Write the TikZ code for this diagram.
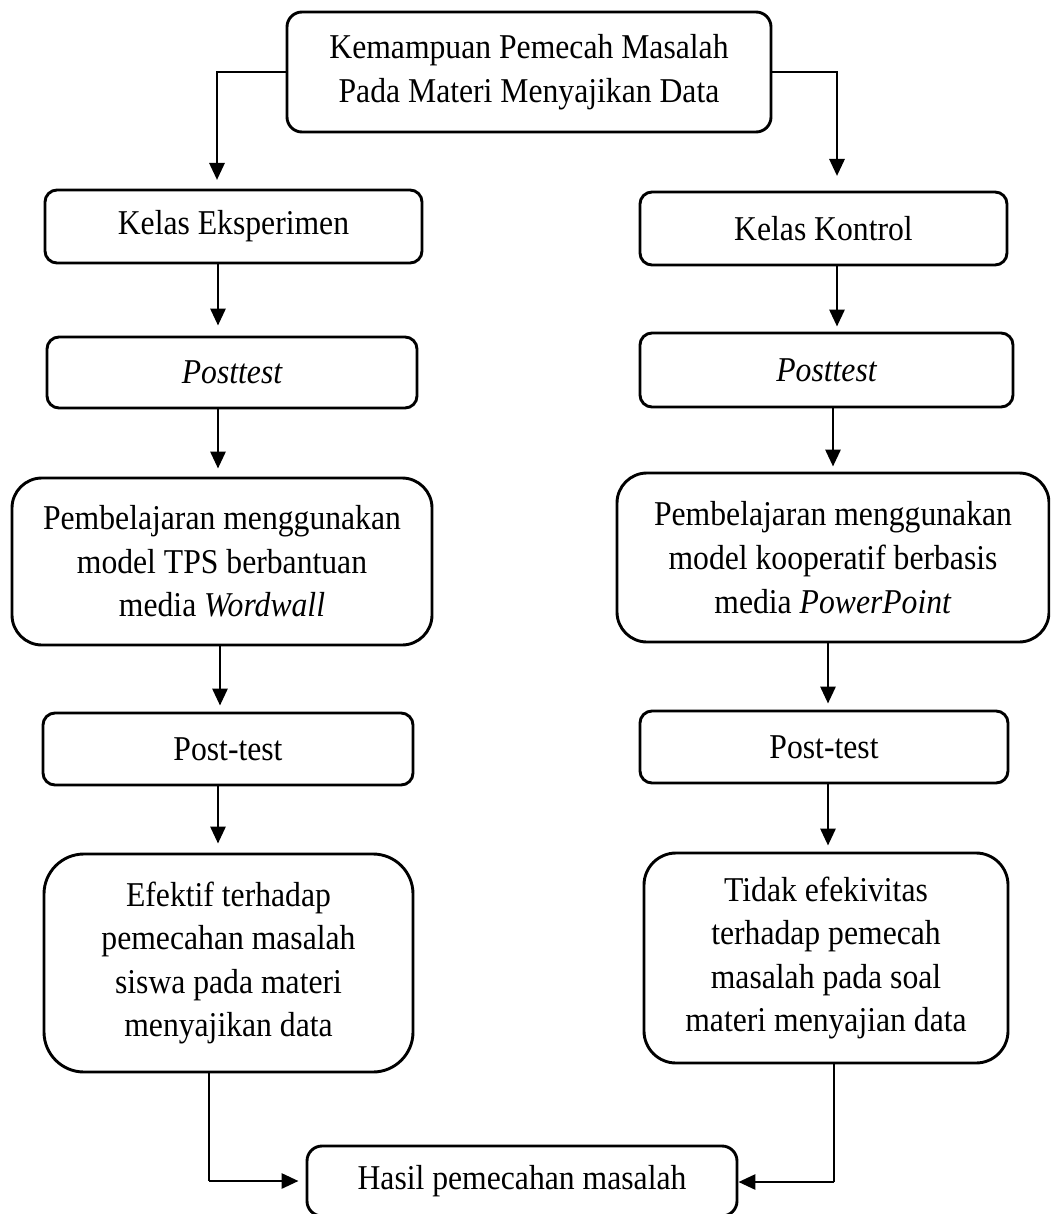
\documentclass[tikz,border=0pt]{standalone}
\usepackage{fontspec}
\setmainfont{Liberation Serif}[FakeStretch=0.91]
\usetikzlibrary{arrows.meta,calc}
\begin{document}
\begin{tikzpicture}[x=0.5pt,y=-0.5pt,
  box/.style={draw,line width=1.45pt,align=center,inner sep=0pt,
    font=\fontsize{17.4}{21.8}\selectfont},
  arr/.style={line width=1.45pt,-{Triangle[length=8.5pt,width=7.5pt]}},
  link/.style={line width=1.45pt}]
\useasboundingbox (0,0) rectangle (1050,1214);
\clip (0,0) rectangle (1050,1214);

% nodes
\node[box,rounded corners=7.5pt,minimum width=242pt,minimum height=60pt] (top) at (529,72)
  {Kemampuan Pemecah Masalah\\Pada Materi Menyajikan Data};
\node[box,rounded corners=6pt,minimum width=188.5pt,minimum height=36.5pt] (kE) at (233.5,226.5) {Kelas Eksperimen};
\node[box,rounded corners=6pt,minimum width=183.5pt,minimum height=36.5pt] (kK) at (823.5,228.5) {Kelas Kontrol};
\node[box,rounded corners=6pt,minimum width=185pt,minimum height=35.5pt] (ptL) at (232,372.5) {\itshape Posttest};
\node[box,rounded corners=6pt,minimum width=186.5pt,minimum height=37pt] (ptR) at (826.5,370) {\itshape Posttest};
\node[box,rounded corners=15pt,minimum width=210pt,minimum height=83.5pt] (pbL) at (222,561.5)
  {Pembelajaran menggunakan\\model TPS berbantuan\\media \textit{Wordwall}};
\node[box,rounded corners=15pt,minimum width=216pt,minimum height=84.5pt] (pbR) at (833,557.5)
  {Pembelajaran menggunakan\\model kooperatif berbasis\\media \textit{PowerPoint}};
\node[box,rounded corners=6pt,minimum width=185pt,minimum height=36pt] (psL) at (228,749) {Post-test};
\node[box,rounded corners=6pt,minimum width=184pt,minimum height=36pt] (psR) at (824,747) {Post-test};
\node[box,rounded corners=20pt,minimum width=184.5pt,minimum height=109pt] (ef) at (228.5,963)
  {Efektif terhadap\\pemecahan masalah\\siswa pada materi\\menyajikan data};
\node[box,rounded corners=16pt,minimum width=182pt,minimum height=105pt] (td) at (826,958)
  {Tidak efekivitas\\terhadap pemecah\\masalah pada soal\\materi menyajian data};
\node[box,rounded corners=7.5pt,minimum width=215pt,minimum height=35pt] (hs) at (522,1181) {Hasil pemecahan masalah};

% connector end points
\coordinate (aL) at (217,180);
\coordinate (aR) at (837,176);
\coordinate (xL1) at (218,0);
\coordinate (xL2) at (220,0);
\coordinate (xR1) at (837,0);
\coordinate (xR2) at (833,0);
\coordinate (xR3) at (828,0);
\coordinate (bL) at (209,1181);
\coordinate (bR) at (834,1182);

% connectors
\draw[arr] (top.west) -| (aL);
\draw[arr] (top.east) -| (aR);

\draw[arr,shorten >=5pt] (xL1 |- kE.south) -- (xL1 |- ptL.north);
\draw[arr,shorten >=4pt] (xL1 |- ptL.south) -- (xL1 |- pbL.north);
\draw[arr,shorten >=3pt] (xL2 |- pbL.south) -- (xL2 |- psL.north);
\draw[arr,shorten >=4.5pt] (xL1 |- psL.south) -- (xL1 |- ef.north);

\draw[arr,shorten >=2.5pt] (xR1 |- kK.south) -- (xR1 |- ptR.north);
\draw[arr,shorten >=2.5pt] (xR2 |- ptR.south) -- (xR2 |- pbR.north);
\draw[arr,shorten >=3pt] (xR3 |- pbR.south) -- (xR3 |- psR.north);
\draw[arr,shorten >=3pt] (xR3 |- psR.south) -- (xR3 |- td.north);

\draw[link] (bL |- ef.south) -- (bL);
\draw[arr,shorten >=3.5pt] (bL) -- (hs.west |- bL);
\draw[link] (bR |- td.south) -- (bR);
\draw[arr] (bR) -- (hs.east |- bR);
\end{tikzpicture}
\end{document}
